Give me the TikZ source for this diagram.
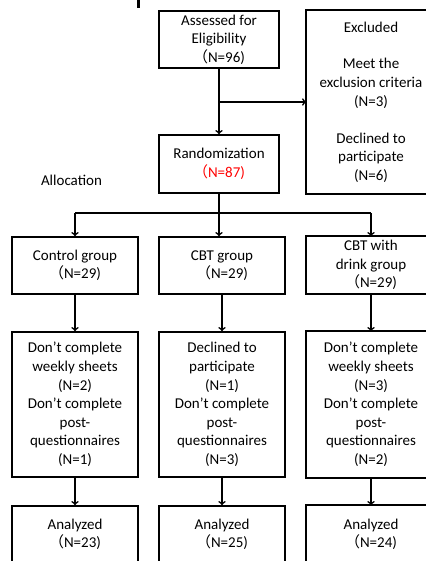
\documentclass[tikz,border=0pt]{standalone}
\usepackage{fontspec}
\setmainfont{Carlito}
\newfontfamily\cjk{Noto Sans CJK SC}
\usetikzlibrary{positioning}
\usetikzlibrary{arrows}
\def\linecol{black}
\def\wlp{{\cjk （}}
\tikzset{
	box/.style={draw=\linecol,line width=1.6pt,align=center,inner sep=0pt,
		font=\fontsize{15}{18.6}\selectfont},
	cutbox/.style={box,draw=none},
	link/.style={draw=\linecol,line width=1.6pt},
	flow/.style={link,->}
}
% boxes on the right run past the edge of the picture
\newcommand{\openright}[1]{
	\draw[link] ([xshift=20pt]#1.north east) -- (#1.north west)
		-- (#1.south west) -- ([xshift=20pt]#1.south east);}
\begin{document}
\begin{tikzpicture}[x=1pt,y=-1pt]
\useasboundingbox (0,0) rectangle (425,561);
\draw[line width=3pt] (138.5,0) -- (138.5,8);
% screening
\node [box,minimum width=120pt,minimum height=57pt] (assess) at (219,39.5)
	{Assessed for\\Eligibility\\\wlp N=96)};
\node [cutbox,minimum width=128pt,minimum height=182pt] (excl) at (371,102)
	{Excluded\\[18.3pt]Meet the\\exclusion criteria\\(N=3)\\[18.3pt]Declined to\\participate\\(N=6)};
\openright{excl}
\node [box,minimum width=120pt,minimum height=58pt] (random) at (219,164)
	{Randomization\\\textcolor{red}{\wlp N=87)}};
\node [font=\fontsize{15}{18.3}\selectfont] (alloc) at (71.5,180) {Allocation};
\coordinate (split) at (219,102);
\draw[flow] (assess) -- (random);
\draw[flow] (split) -- (split -| excl.west);
% groups
\node [box,minimum width=126pt,minimum height=57pt] (control) at (75,265.5)
	{Control group\\\wlp N=29)};
\node [box,minimum width=126pt,minimum height=57pt] (cbt) at (222,265.5)
	{CBT group\\\wlp N=29)};
\node [cutbox,minimum width=128pt,minimum height=56pt] (drink) at (371,265)
	{CBT with\\drink group\\\wlp N=29)};
\openright{drink}
\coordinate (fork) at (219,213);
\draw[link] (random) -- (fork);
\draw[link] (control.north |- fork) -- (drink.north |- fork);
\draw[flow] (control.north |- fork) -- (control);
\draw[flow] (fork) -- (fork |- cbt.north);
\draw[flow] (drink.north |- fork) -- (drink);
% follow up
\node [box,minimum width=126pt,minimum height=145pt] (controlout) at (75,404.5)
	{Don’t complete\\weekly sheets\\(N=2)\\Don’t complete\\post-\\questionnaires\\(N=1)};
\node [box,minimum width=126pt,minimum height=145pt] (cbtout) at (222,404.5)
	{Declined to\\participate\\(N=1)\\Don’t complete\\post-\\questionnaires\\(N=3)};
\node [cutbox,minimum width=128pt,minimum height=145pt] (drinkout) at (371,404.5)
	{Don’t complete\\weekly sheets\\(N=3)\\Don’t complete\\post-\\questionnaires\\(N=2)};
\openright{drinkout}
\draw[flow] (control) -- (controlout);
\draw[flow] (cbt) -- (cbtout);
\draw[flow] (drink) -- (drinkout);
% analysis
\node [box,minimum width=126pt,minimum height=57pt] (controlan) at (75,534.5)
	{Analyzed\\\wlp N=23)};
\node [box,minimum width=126pt,minimum height=57pt] (cbtan) at (222,534.5)
	{Analyzed\\\wlp N=25)};
\node [cutbox,minimum width=128pt,minimum height=57pt] (drinkan) at (371,534.5)
	{Analyzed\\\wlp N=24)};
\openright{drinkan}
\draw[flow] (controlout) -- (controlan);
\draw[flow] (cbtout) -- (cbtan);
\draw[flow] (drinkout) -- (drinkan);
\end{tikzpicture}
\end{document}
